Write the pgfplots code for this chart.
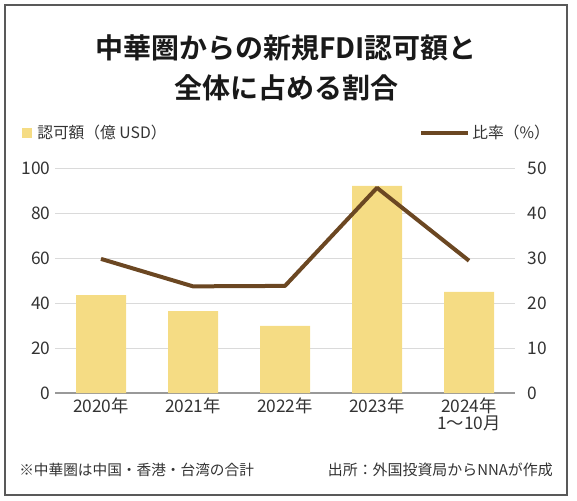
\documentclass[border=0pt]{standalone}
\usepackage{fontspec}
\setmainfont{Noto Sans CJK JP}[BoldFont={Noto Sans CJK JP Bold}]
\usepackage{pgfplots}
\pgfplotsset{compat=1.18}

\definecolor{barcol}{HTML}{F5DC84}
\definecolor{linecol}{HTML}{6B4722}
\definecolor{txt}{HTML}{333333}
\definecolor{gridc}{HTML}{DADADA}

\begin{document}
\begin{tikzpicture}[x=0.75pt,y=0.75pt]
\path[use as bounding box] (0,0) rectangle (577,500);
\draw[draw=black!65, line width=0.9pt] (5,5) rectangle (567,495);

% title
\node[font=\fontsize{21}{24}\selectfont\bfseries, text=black!90] at (286,452) {中華圏からの新規FDI認可額と};
\node[font=\fontsize{21}{24}\selectfont\bfseries, text=black!90] at (286,412) {全体に占める割合};

% legend
\fill[barcol] (22,362) rectangle (32,372);
\node[anchor=west, font=\fontsize{11.8}{13}\selectfont, text=txt, inner sep=0pt] at (37,367) {認可額（億 USD）};
\node[anchor=east, font=\fontsize{11.8}{13}\selectfont, text=txt, inner sep=0pt] (rl) at (550,367) {比率（\%）};
\draw[linecol, line width=3pt] ([xshift=-38]rl.west) -- ([xshift=-3]rl.west);

% footer
\node[anchor=west, font=\fontsize{11}{12}\selectfont, text=txt, inner sep=0pt] at (19,30) {※中華圏は中国・香港・台湾の合計};
\node[anchor=east, font=\fontsize{11.2}{12}\selectfont, text=txt, inner sep=0pt] at (553,30) {出所：外国投資局からNNAが作成};

\begin{axis}[
  at={(41.25pt,80.25pt)}, anchor=south west,
  scale only axis, width=345pt, height=168.75pt,
  xmin=-0.5, xmax=4.5, ymin=0, ymax=100,
  axis y line*=left, axis x line*=bottom,
  y axis line style={draw=none},
  x axis line style={draw=black!40, line width=0.8pt, -},
  major tick length=0pt,
  ymajorgrids, grid style={gridc, line width=0.6pt},
  xtick={0,1,2,3,4},
  xticklabels={2020年, 2021年, 2022年, 2023年, {2024年\\1～10月}},
  xticklabel style={align=center, font=\fontsize{13}{13}\selectfont, text=txt},
  ytick={0,20,40,60,80,100},
  yticklabel style={font=\fontsize{13}{13}\selectfont, text=txt},
  /pgf/number format/assume math mode=true,
]
\addplot[ybar, bar width=37.5pt, fill=barcol, draw=none] coordinates {
  (0,43.5) (1,36.4) (2,29.8) (3,92) (4,44.9)
};
\end{axis}

\begin{axis}[
  at={(41.25pt,80.25pt)}, anchor=south west,
  scale only axis, width=345pt, height=168.75pt,
  xmin=-0.5, xmax=4.5, ymin=0, ymax=50,
  axis y line*=right, axis x line=none,
  y axis line style={draw=none},
  major tick length=0pt,
  ytick={0,10,20,30,40,50},
  yticklabel style={font=\fontsize{13}{13}\selectfont, text=txt, xshift=6pt},
  /pgf/number format/assume math mode=true,
]
\addplot[linecol, line width=3pt, line join=round] coordinates {
  (0,29.8) (1,23.7) (2,23.8) (3,45.6) (4,29.4)
};
\end{axis}
\end{tikzpicture}
\end{document}
